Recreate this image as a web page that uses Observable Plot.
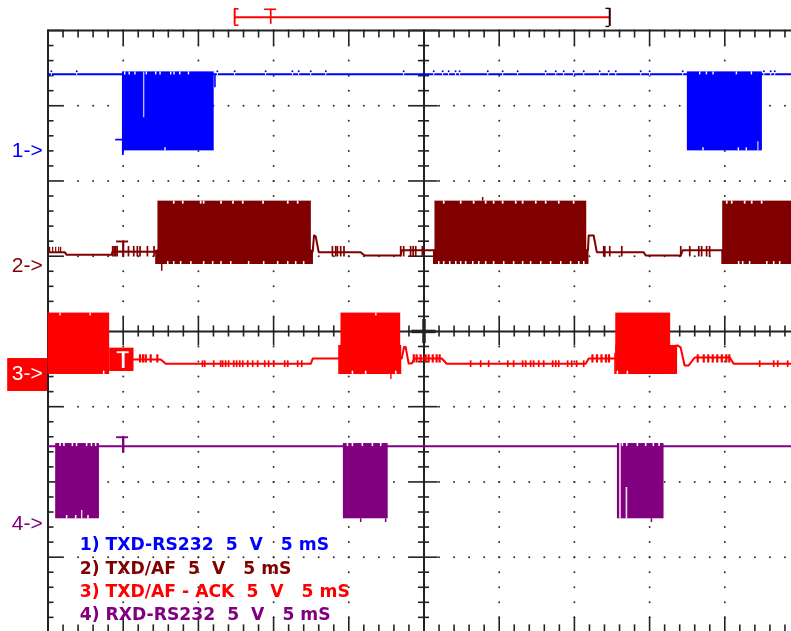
<!DOCTYPE html>
<html><head><meta charset="utf-8">
<script src="https://cdn.jsdelivr.net/npm/d3@7"></script>
<script src="https://cdn.jsdelivr.net/npm/@observablehq/plot@0.6"></script>
<style>html,body{margin:0;padding:0;background:#fff;overflow:hidden}svg{display:block}</style>
</head><body><div id="c"></div>
<script>
// time in ms (5 ms/div), voltage in V on a shared screen scale (5 V/div)
const BLUE="#0000ff", MAROON="#800000", RED="#ff0000", PURPLE="#800080", INK="#222";
const SLIT="#f0e8f0";

// Channel 1: TXD-RS232
const ch1Level=17.1, ch1Top=17.25, ch1Bot=12.0;
const ch1Bursts=[[-20.05,-13.95],[17.51,22.5]];
const ch1Blips=[-24.78,-23.09,-13.74,-12.59,-10.53,-8.75,-8.33,-7.53,-6.53,-1.35,0.65,1.24,1.64,2.1,2.37,4.24,5.23,6.23,8.09,8.76,9.29,9.95,10.62,11.68,12.28,12.75,14.41,15.0,17.2,22.6,23.05,23.32];
const ch1TopNotches=[-19.9,-19.6,-19.22,-18.46,-17.84,-17.55,-16.84,-16.62,-16.24,-15.66,18.33,18.78,19.22,20.77,21.77];
const ch1BotNotches=[-17.22,18.55,20.9,21.43];

// Channel 2: TXD/AF
const ch2Top=8.66, ch2Bot=4.45, ch2Shoulder=5.4;
const ch2Bursts=[[-17.69,-7.49],[0.73,10.82],[19.86,25]];
const ch2Feet=[[-17.84,-7.35],[0.63,10.97],[19.8,25]];
const ch2Trace=[[-24.97,5.27],[-23.89,5.27],[-23.76,5.09],[-20.77,5.09],[-20.7,5.32],[-17.84,5.3],[-7.4,5.3],[-7.31,6.38],[-7.2,6.32],[-7.0,5.27],[-4.21,5.27],[-3.95,5.05],[-1.55,5.05],[-1.48,5.39],[0.71,5.39],[10.9,5.39],[10.95,6.38],[11.28,6.38],[11.49,5.27],[14.6,5.27],[14.74,5.05],[17.07,5.05],[17.2,5.39],[19.86,5.39]];
const ch2Comb=[-24.89,-24.69,-24.49,-24.29,-24.16];
const ch2Noise=[-20.7,-20.6,-20.5,-20.4,-19.65,-19.3,-19.06,-18.88,-18.39,-17.95,-6.09,-5.87,-5.76,-5.54,-5.32,-1.55,-1.35,-0.89,-0.72,-0.55,-0.11,11.95,12.02,12.35,13.15,17.07,17.67,18.27,18.46,18.79,18.99];
const ch2TopNotches=[-16.64,-16.04,-14.85,-14.65,-13.5,-12.7,-12.05,-10.7,-9.06,-8.4,1.31,2.44,3.3,4.1,4.63,5.23,6.1,6.56,7.43,8.09,8.96,9.95,20.13,20.46,21.32,21.79,22.45];
const ch2BotNotches=[-17.04,-16.64,-16.18,-15.5,-14.65,-14.05,-13.5,-12.85,-11.66,-10.66,-9.73,-9.06,-8.53,-8.0,0.98,1.31,1.71,2.11,2.44,2.77,3.24,3.64,4.1,4.63,5.3,5.96,6.56,7.09,7.76,8.42,9.09,9.75,10.29,10.62,20.92,21.19,21.65,22.79,23.25,23.65];
const ch2Spikes=[[-17.44,4.45,4.0],[3.9,8.66,8.9]];

// Channel 3: TXD/AF - ACK
const ch3Top=1.22, ch3Bot=-2.86;
const ch3Bursts=[[-25,-20.9],[-5.52,-1.55],[12.75,16.4]];
const ch3Steps=[[-20.9,-19.28,-1.11,-2.66],[-5.67,-1.48,-0.93,-2.86],[12.68,12.75,-1.46,-2.86],[12.75,16.86,-0.93,-2.86]];
const ch3Trace=[[-19.28,-1.86],[-17.51,-1.86],[-17.17,-2.15],[-7.53,-2.15],[-7.4,-1.8],[-5.67,-1.8],[-1.48,-1.8],[-1.33,-1.04],[-1.22,-1.04],[-1.02,-2.13],[-0.82,-2.13],[-0.62,-1.8],[1.18,-1.8],[1.51,-2.15],[10.75,-2.15],[10.95,-1.8],[12.68,-1.8],[16.86,-0.93],[17.06,-1.06],[17.33,-2.26],[17.6,-2.26],[18.0,-1.73],[20.33,-1.73],[20.59,-2.15],[25,-2.15]];
const ch3HighNoise=[-18.88,-18.68,-18.5,-18.17,-17.73,-0.68,-0.49,-0.22,0.11,0.31,0.58,0.84,1.04,11.2,11.5,11.8,12.1,12.3,18.2,18.6,18.9,19.2,19.5,19.8,20.1,20.3];
const ch3LowNoise=[-14.73,-14.58,-13.98,-13.52,-13.39,-13.19,-12.99,-12.65,-12.46,-12.25,-12.05,-11.72,-11.39,-11.06,-10.59,-10.33,-9.99,-9.26,-9.06,-8.4,-8.13,3.1,3.77,4.3,5.57,5.96,6.56,6.76,7.09,7.29,7.63,7.96,8.56,8.76,8.96,9.55,9.82,10.15,10.62,22.32,23.25,23.52,24.18];
const ch3TopNotches=[-24.2,-22.2,-3.2];
const ch3BotNotches=[-21.3,-4.76,-3.88,-1.88,12.86,13.52];

// Channel 4: RXD-RS232
const ch4Level=-7.63, ch4Top=-7.45, ch4Bot=-12.45;
const ch4Bursts=[[-24.49,-21.58],[-5.36,-2.38],[12.86,15.96]];
const ch4TopNotches=[-24.2,-23.94,-23.38,-23.1,-22.43,-22.11,-21.83,-5.09,-4.76,-4.1,-3.43,-2.88,13.19,13.48,14.19,14.74,15.25,15.63];
const ch4BotNotches=[-23.76,-23.16,-22.34];
const ch4DownSpikes=[-4.21,-2.55,15.12];

// Text
const chanLabels=["1->","2->","3->","4->"];
const chanLabelV=[12.03,4.39,-2.79,-12.77];
const chanLabelColors=[BLUE,MAROON,"#ffffff",PURPLE];
const legend=["1) TXD-RS232\u00a0 5\u00a0 V\u00a0 \u00a05 mS","2) TXD/AF\u00a0 5\u00a0 V\u00a0 \u00a05 mS","3) TXD/AF - ACK\u00a0 5\u00a0 V\u00a0 \u00a05 mS","4) RXD-RS232\u00a0 5\u00a0 V\u00a0 \u00a05 mS"];
const legendV=[-14.16,-15.74,-17.3,-18.82];
const legendColors=[BLUE,MAROON,RED,PURPLE];

// Graticule
const msTicks=d3.range(-25,26), vTicks=d3.range(-20,21);
const isMajor=d=>d%5===0;
const msMinor=msTicks.filter(d=>!isMajor(d)), msMajor=msTicks.filter(isMajor);
const vMinor=vTicks.filter(d=>!isMajor(d)), vMajor=vTicks.filter(isMajor);
const dots=[...d3.cross(msMajor,vTicks),...d3.cross(msTicks,vMajor)];

const vt=(ts,a,b,stroke,strokeWidth=1.6)=>Plot.ruleX(ts,{x:d=>d,y1:a,y2:b,stroke,strokeWidth});
const ht=(vs,a,b,stroke,strokeWidth=1.6)=>Plot.ruleY(vs,{y:d=>d,x1:a,x2:b,stroke,strokeWidth});
const bursts=(list,top,bot,fill)=>Plot.rect(list,{x1:d=>d[0],x2:d=>d[1],y1:bot,y2:top,fill});
const trace=(pts,stroke,strokeWidth=2)=>Plot.line(pts,{x:d=>d[0],y:d=>d[1],stroke,strokeWidth,curve:"linear"});

const chart=Plot.plot({
  width:791,height:631,margin:0,
  x:{domain:[-25,25],range:[47.5,799.5],axis:null},
  y:{domain:[-20,20],range:[631.9,30],axis:null},
  style:{background:"#fff",filter:"blur(0.45px)"},
  marks:[
    // graticule dots
    Plot.dot(dots,{x:d=>d[0],y:d=>d[1],r:1,fill:"#333",stroke:null}),
    // outer frame
    Plot.ruleX([-25],{y1:-20,y2:20,stroke:INK,strokeWidth:2}),
    Plot.ruleY([20],{x1:-25,x2:25,stroke:INK,strokeWidth:2}),
    // centre cross
    Plot.ruleX([0],{y1:-20,y2:20,stroke:INK,strokeWidth:2}),
    Plot.ruleY([0],{x1:-25,x2:25,stroke:INK,strokeWidth:2}),
    // edge ticks
    vt(msMinor,20,19.5,INK), vt(msMajor,20,19,INK),
    vt(msMinor,-20,-19.5,INK), vt(msMajor,-20,-19,INK),
    ht(vMinor,-25,-24.6,INK), ht(vMajor,-25,-24,INK),
    // centre ticks
    vt(msMinor,-0.37,0.37,INK), vt(msMajor,-0.95,0.95,INK),
    ht(vMinor,-0.37,0.37,INK), ht(vMajor,-0.95,0.95,INK),
    vt([0],-0.8,0.8,INK,3.5), ht([0],-0.8,0.8,INK,3.5),

    // top bar: trigger position
    Plot.ruleY([20.88],{x1:-12.59,x2:12.35,stroke:RED,strokeWidth:1.8}),
    vt([-12.59],20.35,21.44,RED,1.9), ht([21.44,20.35],-12.59,-12.3,RED,1.6),
    vt([-10.19],20.41,21.41,RED,1.7), ht([21.41],-10.6,-9.8,RED,1.6),
    vt([12.35],20.27,21.47,"#200000",2), ht([21.47,20.27],12.1,12.35,"#200000",1.4),

    // channel 1
    ht([ch1Level],-25,25,BLUE,2),
    vt(ch1Blips,ch1Level-0.12,ch1Level+0.12,"#fff",1),
    Plot.dot(ch1Blips,{x:d=>d,y:ch1Level+0.2,r:1,fill:BLUE,stroke:null}),
    bursts(ch1Bursts,ch1Top,ch1Bot,BLUE),
    vt(ch1TopNotches,ch1Top,ch1Top-0.2,"#fff",1.4),
    vt(ch1BotNotches,ch1Bot,ch1Bot+0.2,"#fff",1.4),
    vt([-18.64],ch1Top,14.2,"#b8b8ff",1.4),
    vt([22.2],ch1Bot,12.6,"#b8b8ff",1.4),
    vt([-13.9],ch1Level,16.2,BLUE,1.6),
    ht([12.75],-20.5,-20,BLUE,1.7), vt([-20.02],11.7,12.76,BLUE,1.9),

    // channel 2
    trace(ch2Trace,MAROON),
    vt(ch2Comb,5.27,5.6,MAROON,1.2),
    vt(ch2Noise,4.95,5.65,MAROON,1.7),
    bursts(ch2Bursts,ch2Top,ch2Bot,MAROON),
    bursts(ch2Feet,ch2Shoulder,ch2Bot,MAROON),
    vt(ch2TopNotches,ch2Top,ch2Top-0.2,"#fff",1.7),
    vt(ch2BotNotches,ch2Bot,ch2Bot+0.2,"#fff",1.5),
    Plot.ruleX(ch2Spikes,{x:d=>d[0],y1:d=>d[1],y2:d=>d[2],stroke:MAROON,strokeWidth:1.5}),
    ht([5.98],-20.44,-19.64,MAROON,1.9), vt([-20],4.99,5.98,MAROON,2.2),

    // channel 3
    trace(ch3Trace,RED),
    vt(ch3HighNoise,-1.55,-2.1,RED,2.2),
    vt(ch3LowNoise,-1.95,-2.4,RED,1.7),
    bursts(ch3Bursts,ch3Top,ch3Bot,RED),
    Plot.rect(ch3Steps,{x1:d=>d[0],x2:d=>d[1],y1:d=>d[3],y2:d=>d[2],fill:RED}),
    vt(ch3TopNotches,ch3Top,ch3Top-0.2,"#fff",1.3),
    vt(ch3BotNotches,ch3Bot,ch3Bot+0.22,"#fff",1.5),
    vt([-2.2],ch3Bot,-3.2,RED,1.4),
    ht([-1.38],-20.4,-19.6,"#fff",1.9), vt([-20],-1.38,-2.46,"#fff",2.8),

    // channel 4
    ht([ch4Level],-25,25,PURPLE,2),
    bursts(ch4Bursts,ch4Top,ch4Bot,PURPLE),
    vt(ch4TopNotches,ch4Top,ch4Top-0.2,"#fff",1.5),
    vt(ch4BotNotches,ch4Bot,ch4Bot+0.22,"#fff",1.5),
    vt(ch4DownSpikes,ch4Bot,ch4Bot-0.25,PURPLE,1.5),
    vt([13.03],ch4Top,ch4Bot,SLIT,1.6),
    vt([13.46],-10.37,ch4Bot,SLIT,1.6),
    vt([-22.76],-11.9,ch4Bot,SLIT,1.3),
    ht([-7.03],-20.44,-19.64,PURPLE,1.9), vt([-20],-7.03,-8.09,PURPLE,2.4),

    // channel labels
    Plot.rect([[-27.68,-25.03]],{x1:d=>d[0],x2:d=>d[1],y1:-3.99,y2:-1.8,fill:RED}),
    Plot.text(chanLabels,{x:-27.41,y:(d,i)=>chanLabelV[i],text:d=>d,fill:(d,i)=>chanLabelColors[i],textAnchor:"start",fontSize:21,fontFamily:"Liberation Sans"}),
    // legend
    Plot.text(legend,{x:-22.89,y:(d,i)=>legendV[i],text:d=>d,fill:(d,i)=>legendColors[i],textAnchor:"start",fontSize:17.2,fontWeight:"bold",fontFamily:"DejaVu Sans"})
  ]
});
document.getElementById("c").append(chart);
</script></body></html>
